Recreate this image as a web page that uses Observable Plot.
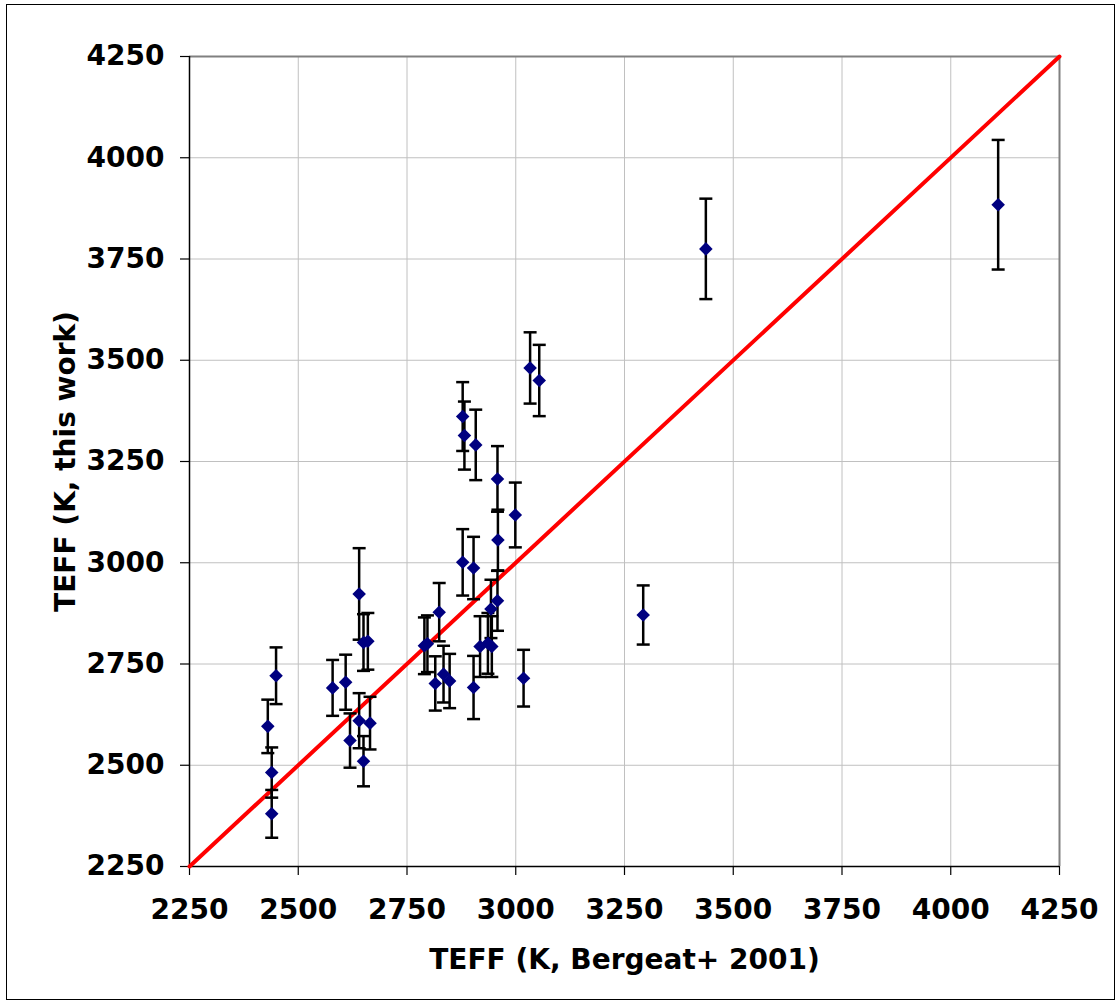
<!DOCTYPE html>
<html>
<head>
<meta charset="utf-8">
<script src="https://cdn.jsdelivr.net/npm/d3@7"></script>
<script src="https://cdn.jsdelivr.net/npm/@observablehq/plot@0.6"></script>
<style>
  html, body { margin: 0; padding: 0; background: #fff; }
  #wrap { position: relative; width: 1119px; height: 1003px; overflow: hidden; }
  #wrap svg { position: absolute; left: 0; top: 0; }
  #border { position: absolute; left: 6px; top: 4px; width: 1107px; height: 994px; border: 1px solid #000; pointer-events: none; }
</style>
</head>
<body>
<div id="wrap"><div id="border"></div></div>
<script>
// TEFF from Bergeat+ 2001 (x), TEFF this work (y), and symmetric error on y
const teffBergeat = [2449, 2430, 2439, 2439, 2579, 2609, 2640, 2650, 2660, 2619, 2640, 2665, 2650,
  2790, 2797, 2824, 2815, 2834, 2848, 2878, 2903, 2958, 2943, 2918, 2936, 2945, 2903, 3018,
  3033, 3054, 2878, 2882, 2908, 2958, 2999, 2959, 3437, 3293, 4109];
const teffThisWork = [2721, 2596, 2482, 2380, 2691, 2705, 2923, 2803, 2806, 2561, 2610, 2604, 2510,
  2795, 2800, 2878, 2702, 2725, 2708, 3001, 2987, 2906, 2886, 2793, 2801, 2793, 2692, 2715,
  3481, 3450, 3361, 3314, 3291, 3207, 3118, 3056, 3775, 2871, 3884];
const teffError = [70, 66, 62, 59, 69, 68, 113, 70, 70, 67, 68, 65, 62,
  70, 70, 72, 67, 70, 67, 82, 77, 74, 72, 75, 75, 75, 78, 70,
  88, 88, 85, 84, 87, 81, 80, 75, 124, 73, 160];
const axisTicks = [2250, 2500, 2750, 3000, 3250, 3500, 3750, 4000, 4250];
const oneToOne = [2250, 4250];

const data = teffBergeat.map((x, i) => ({
  x, y: teffThisWork[i], lo: teffThisWork[i] - teffError[i], hi: teffThisWork[i] + teffError[i]
}));
const lineData = oneToOne.map(v => ({x: v, y: v}));

const capSymbol = {
  draw(ctx, size) {
    const r = Math.sqrt(size / Math.PI);
    ctx.moveTo(-r, 0);
    ctx.lineTo(r, 0);
  }
};

const chart = Plot.plot({
  width: 1119,
  height: 1003,
  marginLeft: 189,
  marginRight: 60,
  marginTop: 56,
  marginBottom: 137,
  x: {domain: [2250, 4250]},
  y: {domain: [2250, 4250]},
  style: {fontFamily: "'DejaVu Sans', Verdana, sans-serif", fontWeight: "bold", fontSize: "28px", color: "#000", background: "transparent", overflow: "visible"},
  marks: [
    Plot.gridX(axisTicks, {stroke: "#c0c0c0", strokeOpacity: 1, strokeWidth: 1}),
    Plot.gridY(axisTicks, {stroke: "#c0c0c0", strokeOpacity: 1, strokeWidth: 1}),
    Plot.ruleX([4250], {stroke: "#808080", strokeWidth: 2}),
    Plot.ruleY([4250], {stroke: "#808080", strokeWidth: 2}),
    Plot.axisX({ticks: axisTicks, tickFormat: "d", tickSize: 9, tickPadding: 24, strokeWidth: 1.2,
      label: "TEFF (K, Bergeat+ 2001)", labelAnchor: "center", labelOffset: 102, labelArrow: "none"}),
    Plot.axisY({ticks: axisTicks, tickFormat: "d", tickSize: 9, tickPadding: 16, strokeWidth: 1.2,
      label: "TEFF (K, this work)", labelAnchor: "center", labelOffset: 134, labelArrow: "none"}),
    Plot.ruleX([2250], {stroke: "#000", strokeWidth: 1.5}),
    Plot.ruleY([2250], {stroke: "#000", strokeWidth: 1.5}),
    Plot.line(lineData, {x: "x", y: "y", stroke: "#ff0000", strokeWidth: 4}),
    Plot.ruleX(data, {x: "x", y1: "lo", y2: "hi", stroke: "#000", strokeWidth: 2.5}),
    Plot.dot(data, {x: "x", y: "lo", symbol: capSymbol, r: 6.5, stroke: "#000", strokeWidth: 2.5}),
    Plot.dot(data, {x: "x", y: "hi", symbol: capSymbol, r: 6.5, stroke: "#000", strokeWidth: 2.5}),
    Plot.dot(data, {x: "x", y: "y", symbol: "diamond2", r: 6.1, fill: "#000080", stroke: "none"})
  ]
});
document.getElementById("wrap").prepend(chart);
</script>
</body>
</html>
